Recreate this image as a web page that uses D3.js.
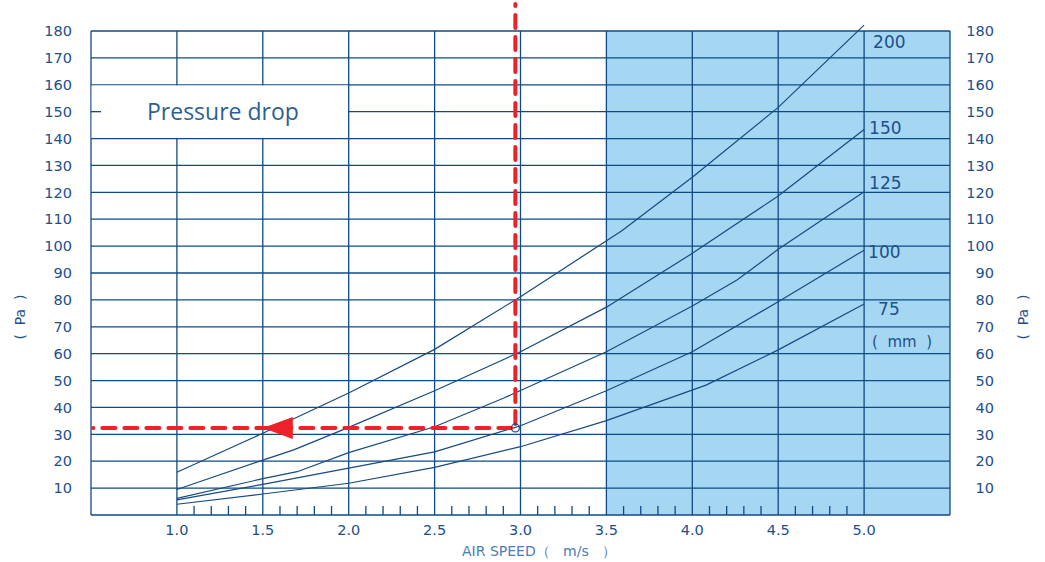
<!DOCTYPE html>
<html>
<head>
<meta charset="utf-8">
<script src="https://cdn.jsdelivr.net/npm/d3@7"></script>
<style>
  body { margin: 0; background: #fff; }
  svg { display: block; font-family: 'DejaVu Sans', sans-serif; }
</style>
</head>
<body>
<svg id="chart" width="1045" height="562"></svg>
<script>
// values
const speedTicks = [1.0, 1.5, 2.0, 2.5, 3.0, 3.5, 4.0, 4.5, 5.0];
const minorSpeedTicks = [1.1, 1.2, 1.3, 1.4, 1.6, 1.7, 1.8, 1.9, 2.1, 2.2, 2.3, 2.4,
    2.6, 2.7, 2.8, 2.9, 3.1, 3.2, 3.3, 3.4, 3.6, 3.7, 3.8, 3.9, 4.1, 4.2, 4.3, 4.4,
    4.6, 4.7, 4.8, 4.9];
const pressureTicks = [10, 20, 30, 40, 50, 60, 70, 80, 90, 100, 110, 120, 130, 140, 150, 160, 170, 180];
const diameters = ['200', '150', '125', '100', '75'];

const curve200 = [[1.0, 15.9], [1.5, 30.4], [2.0, 45.4], [2.5, 61.6], [3.0, 81.2], [3.59, 105.7], [4.0, 125.6], [4.5, 151.6], [5.0, 182.2]];
const curve150 = [[1.0, 9.5], [1.5, 20.4], [1.68, 24.2], [2.0, 32.6], [2.5, 46.2], [3.0, 60.7], [3.5, 77.3], [4.0, 97.3], [4.5, 118.6], [5.0, 143.4]];
const curve125 = [[1.0, 6.2], [1.5, 13.5], [1.7, 16.1], [2.0, 23.2], [2.5, 32.8], [2.9, 43.4], [3.0, 46.3], [3.5, 60.7], [4.0, 77.7], [4.26, 87.4], [4.5, 98.8], [5.0, 120.2]];
const curve100 = [[1.0, 5.6], [1.5, 11.4], [2.0, 17.4], [2.5, 23.5], [3.0, 33.2], [3.5, 46.2], [4.0, 60.7], [4.5, 79.3], [5.0, 98.5]];
const curve75 = [[1.0, 4.0], [1.5, 7.8], [2.0, 11.8], [2.5, 17.7], [3.0, 25.4], [3.5, 35.1], [4.08, 48.3], [4.5, 61.4], [5.0, 78.5]];
const curves = [curve200, curve150, curve125, curve100, curve75];

const shadedSpeed = [3.5, 5.5];
const labelBoxSpeed = [0.5, 2.0];
const labelBoxPressure = [140, 160];
const readSpeed = 2.97;
const readPressure = 32.4;
const arrowSpeed = 1.5;

const NAVY = '#0f4a85';
const TEXT = '#1d4f8a';
const RED = '#ec2228';
const SHADE = '#a6d7f2';

const x = d3.scaleLinear().domain([0.5, 5.5]).range([91, 950]);
const y = d3.scaleLinear().domain([0, 180]).range([515, 31]);

const svg = d3.select('#chart');

// shaded band
svg.append('rect')
    .attr('x', x(shadedSpeed[0]))
    .attr('y', y(180))
    .attr('width', x(shadedSpeed[1]) - x(shadedSpeed[0]))
    .attr('height', y(0) - y(180))
    .attr('fill', SHADE);

let grid = svg.append('g').attr('stroke', NAVY).attr('stroke-width', 1.3);

// horizontal grid
grid.selectAll('.hline')
    .data([0].concat(pressureTicks))
    .enter()
    .append('line')
    .attr('x1', x(0.5))
    .attr('x2', x(5.5))
    .attr('y1', d => y(d))
    .attr('y2', d => y(d));

// vertical grid
grid.selectAll('.vline')
    .data([0.5].concat(speedTicks, [5.5]))
    .enter()
    .append('line')
    .attr('x1', d => x(d))
    .attr('x2', d => x(d))
    .attr('y1', y(0))
    .attr('y2', y(180));

// minor ticks on the bottom
grid.selectAll('.minor')
    .data(minorSpeedTicks)
    .enter()
    .append('line')
    .attr('x1', d => x(d))
    .attr('x2', d => x(d))
    .attr('y1', y(0))
    .attr('y2', y(0) - 9);

// white box for the "Pressure drop" title
svg.append('rect')
    .attr('x', x(labelBoxSpeed[0]) + 0.7)
    .attr('y', y(labelBoxPressure[1]) + 0.7)
    .attr('width', x(labelBoxSpeed[1]) - x(labelBoxSpeed[0]) - 1.4)
    .attr('height', y(labelBoxPressure[0]) - y(labelBoxPressure[1]) - 1.4)
    .attr('fill', '#fff');

svg.append('line')
    .attr('x1', x(0.5)).attr('x2', x(0.5) + 10)
    .attr('y1', y(150)).attr('y2', y(150))
    .attr('stroke', NAVY).attr('stroke-width', 1.3);

svg.append('text')
    .attr('x', 147)
    .attr('y', y(150))
    .attr('dy', '0.36em')
    .attr('fill', '#2d5f93')
    .style('font-family', "'Open Sans', sans-serif")
    .style('font-weight', 400)
    .style('font-size', '23px')
    .text('Pressure drop');

// curves
const line = d3.line().x(d => x(d[0])).y(d => y(d[1]));

svg.append('g')
    .selectAll('path')
    .data(curves)
    .enter()
    .append('path')
    .attr('d', line)
    .attr('fill', 'none')
    .attr('stroke', '#174a80')
    .attr('stroke-width', 1.2);

// curve labels (offsets from the end of each line)
const labelOffsets = [[9, 17], [5, -2], [5, -9], [4, 2], [14, 5]];
svg.append('g')
    .selectAll('text')
    .data(diameters)
    .enter()
    .append('text')
    .attr('x', (d, i) => x(curves[i][curves[i].length - 1][0]) + labelOffsets[i][0])
    .attr('y', (d, i) => y(curves[i][curves[i].length - 1][1]) + labelOffsets[i][1])
    .attr('dy', '0.36em')
    .attr('fill', TEXT)
    .style('font-size', '17px')
    .text(d => d);

svg.append('text')
    .attr('x', x(5.0) + 8)
    .attr('y', y(64.5))
    .attr('dy', '0.36em')
    .attr('fill', TEXT)
    .style('font-size', '15px')
    .attr('xml:space', 'preserve')
    .text('(  mm  )');

// axis tick labels
svg.append('g')
    .selectAll('text')
    .data(pressureTicks)
    .enter()
    .append('text')
    .attr('x', 72)
    .attr('y', d => y(d))
    .attr('dy', '0.36em')
    .attr('text-anchor', 'end')
    .attr('fill', TEXT)
    .style('font-size', '14.5px')
    .text(d => d);

svg.append('g')
    .selectAll('text')
    .data(pressureTicks)
    .enter()
    .append('text')
    .attr('x', 994)
    .attr('y', d => y(d))
    .attr('dy', '0.36em')
    .attr('text-anchor', 'end')
    .attr('fill', TEXT)
    .style('font-size', '14.5px')
    .text(d => d);

svg.append('g')
    .selectAll('text')
    .data(speedTicks)
    .enter()
    .append('text')
    .attr('x', d => x(d))
    .attr('y', 530)
    .attr('dy', '0.36em')
    .attr('text-anchor', 'middle')
    .attr('fill', TEXT)
    .style('font-size', '14.5px')
    .text(d => d.toFixed(1));

svg.append('text')
    .attr('x', 462)
    .attr('y', 551)
    .attr('dy', '0.36em')
    .attr('fill', '#4b7db5')
    .style('font-size', '14px')
    .attr('xml:space', 'preserve')
    .text('AIR SPEED（   m/s   ）');

[20, 1023].forEach(px => {
    svg.append('text')
        .attr('transform', `translate(${px}, 317) rotate(-90)`)
        .attr('dy', '0.36em')
        .attr('text-anchor', 'middle')
        .attr('fill', TEXT)
        .style('font-size', '14px')
        .attr('xml:space', 'preserve')
        .text('(  Pa  )');
});

// red reading guide
let guide = svg.append('g')
    .attr('stroke', RED)
    .attr('stroke-width', 4)
    .attr('stroke-dasharray', '13,9')
    .attr('stroke-linecap', 'round')
    .attr('fill', 'none');

guide.append('line')
    .attr('x1', x(readSpeed)).attr('x2', x(readSpeed))
    .attr('y1', y(readPressure) - 4).attr('y2', y(190));

guide.append('line')
    .attr('x1', x(readSpeed) - 4).attr('x2', x(0.5) + 2)
    .attr('y1', y(readPressure)).attr('y2', y(readPressure));

svg.append('path')
    .attr('d', `M${x(arrowSpeed)},${y(readPressure)} L${x(arrowSpeed) + 30},${y(readPressure) - 11} L${x(arrowSpeed) + 30},${y(readPressure) + 11} Z`)
    .attr('fill', RED);

svg.append('circle')
    .attr('cx', x(readSpeed))
    .attr('cy', y(readPressure))
    .attr('r', 4)
    .attr('fill', 'none')
    .attr('stroke', NAVY)
    .attr('stroke-width', 1.2);
</script>
</body>
</html>
